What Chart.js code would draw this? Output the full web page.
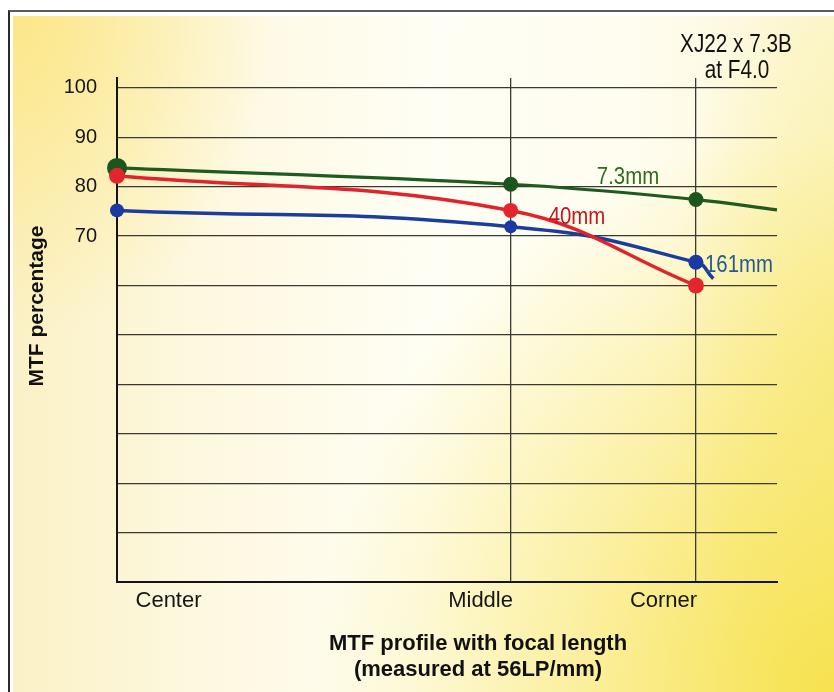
<!DOCTYPE html>
<html>
<head>
<meta charset="utf-8">
<script src="https://cdn.jsdelivr.net/npm/chart.js@4.4.1/dist/chart.umd.min.js"></script>
<style>
  html, body { margin: 0; padding: 0; background: #ffffff; }
  #wrap { position: relative; width: 834px; height: 692px; overflow: hidden; background: #fff; }
  #frame { position: absolute; left: 8px; top: 10px; right: 0; bottom: 0;
           border-left: 2px solid #2a2a2a; border-top: 2px solid #5c5c5c; background: #fff; }
  #paper { position: absolute; left: 13px; top: 16px; right: 0; bottom: 0;
    background:
      radial-gradient(ellipse 260px 320px at 0px 0px, rgba(252,230,128,0.9), rgba(252,230,128,0) 100%),
      radial-gradient(ellipse 520px 560px at 100% 100%, rgba(247,226,78,1), rgba(247,226,78,0) 100%),
      radial-gradient(ellipse 160px 420px at 100% 50%, rgba(250,238,150,0.8), rgba(250,238,150,0) 100%),
      linear-gradient(to right, #fbf1c6 0%, #fdf8df 22%, #fffef4 50%, #fffdf0 75%, #fcf6d0 100%);
  }
  #holder { position: absolute; left: 0; top: 0; width: 834px; height: 692px; }
</style>
</head>
<body>
<div id="wrap">
  <div id="frame"></div>
  <div id="paper"></div>
  <div id="holder"><canvas id="c"></canvas></div>
</div>
<script>
// ---- data ----
const categories = ['Center', 'Middle', 'Corner'];
const fieldPos = [0, 0.68, 1.0];           // relative image-field position
const xMax = 1.14;
const seriesNames = ['7.3mm', '40mm', '161mm'];
const mtf73 = [83.8, 80.5, 77.4];
const mtf40 = [82.2, 75.2, 60.0];
const mtf161 = [75.2, 71.9, 64.7];
const tail73 = [1.14, 75.3];               // curve continues past Corner
const tail161 = [1.03, 61.4];
const yGridValues = [0, 10, 20, 30, 40, 50, 60, 70, 80, 90, 100];
const yLabeledTicks = [70, 80, 90, 100];
const titleLines = ['XJ22 x 7.3B', 'at F4.0'];
const xTitleLines = ['MTF profile with focal length', '(measured at 56LP/mm)'];
const yTitle = 'MTF percentage';

const SANS = '"Liberation Sans", Arial, Helvetica, sans-serif';

function pts(vals, tail) {
  const p = fieldPos.map((x, i) => ({ x: x, y: vals[i] }));
  if (tail) p.push({ x: tail[0], y: tail[1] });
  return p;
}

function condensed(ctx, text, x, y, font, sx) {
  ctx.save();
  ctx.translate(x, y);
  ctx.scale(sx, 1);
  ctx.font = font;
  ctx.fillText(text, 0, 0);
  ctx.restore();
}

const textPlugin = {
  id: 'texts',
  afterDraw(chart) {
    const ctx = chart.ctx;
    ctx.save();
    ctx.textAlign = 'center';
    ctx.textBaseline = 'middle';
    ctx.fillStyle = '#111';
    // y title
    ctx.save();
    ctx.translate(37, 306);
    ctx.rotate(-Math.PI / 2);
    ctx.font = 'bold 21px ' + SANS;
    ctx.fillText(yTitle, 0, 0);
    ctx.restore();
    // x title
    ctx.font = 'bold 22px ' + SANS;
    ctx.fillText(xTitleLines[0], 478, 644);
    ctx.fillText(xTitleLines[1], 478, 670);
    // top-right annotation
    condensed(ctx, titleLines[0], 736, 45, '25px ' + SANS, 0.83);
    condensed(ctx, titleLines[1], 737, 71, '25px ' + SANS, 0.83);
    // series labels
    ctx.fillStyle = '#2f6a1f';
    condensed(ctx, seriesNames[0], 628, 177, '24px ' + SANS, 0.85);
    ctx.fillStyle = '#c4161d';
    condensed(ctx, seriesNames[1], 577, 217, '24px ' + SANS, 0.85);
    ctx.fillStyle = '#245a92';
    condensed(ctx, seriesNames[2], 739, 265, '24px ' + SANS, 0.85);
    ctx.restore();
  }
};

const lineCommon = { fill: false, pointBorderWidth: 0, clip: false };

new Chart(document.getElementById('c'), {
  type: 'line',
  data: {
    datasets: [
      Object.assign({
        label: seriesNames[1], data: pts(mtf40), order: 0, tension: 0.4,
        borderColor: '#e1232b', backgroundColor: '#e1232b', borderWidth: 3.5,
        pointRadius: [8, 7.5, 8], pointBackgroundColor: '#e3262d'
      }, lineCommon),
      Object.assign({
        label: seriesNames[2], data: pts(mtf161, tail161), order: 1, tension: 0.5,
        borderColor: '#1b3d9e', backgroundColor: '#1b3d9e', borderWidth: 3.5,
        pointRadius: [7, 6.5, 7.5, 0], pointBackgroundColor: '#1a3aa2'
      }, lineCommon),
      Object.assign({
        label: seriesNames[0], data: pts(mtf73, tail73), order: 2, tension: 0.4,
        borderColor: '#1f5a1f', backgroundColor: '#1f5a1f', borderWidth: 3.2,
        pointRadius: [10, 7.5, 7.5, 0], pointBackgroundColor: '#1d561d'
      }, lineCommon)
    ]
  },
  options: {
    responsive: true,
    maintainAspectRatio: false,
    animation: false,
    devicePixelRatio: 1,
    layout: { padding: { top: 78, right: 57, left: 0, bottom: 0 } },
    plugins: { legend: { display: false }, tooltip: { enabled: false } },
    elements: { point: { hoverRadius: 0 } },
    scales: {
      x: {
        type: 'linear', position: 'bottom', min: 0, max: xMax,
        grid: { display: false, drawTicks: false },
        border: { display: true, color: '#141414', width: 2 },
        afterBuildTicks(scale) {
          // label anchors placed beside each field position
          const shift = [0.089, -0.052, -0.056];
          scale.ticks = fieldPos.map((v, i) => ({ value: v + shift[i] }));
        },
        afterFit(scale) { scale.height = 110; },
        ticks: {
          autoSkip: false, maxRotation: 0, minRotation: 0, padding: 6,
          color: '#161616', font: { family: SANS, size: 22 },
          callback: (v, i) => categories[i]
        }
      },
      xg: {
        type: 'linear', position: 'top', min: 0, max: xMax,
        afterBuildTicks(scale) { scale.ticks = [fieldPos[1], fieldPos[2]].map(v => ({ value: v })); },
        afterFit(scale) { scale.height = 0; },
        grid: { display: true, drawTicks: false, color: '#3a3a32', lineWidth: 1.3 },
        border: { display: false },
        ticks: { display: false }
      },
      y: {
        type: 'linear', min: 0, max: 102,
        afterBuildTicks(scale) { scale.ticks = yGridValues.map(v => ({ value: v })); },
        afterFit(scale) { scale.width = 117; },
        grid: { display: true, drawTicks: false, color: '#3a3a32', lineWidth: 1.3 },
        border: { display: true, color: '#141414', width: 2 },
        ticks: {
          padding: 20, color: '#161616', font: { family: SANS, size: 20 },
          callback: v => (yLabeledTicks.includes(v) ? String(v) : '')
        }
      }
    }
  },
  plugins: [textPlugin]
});
</script>
</body>
</html>
